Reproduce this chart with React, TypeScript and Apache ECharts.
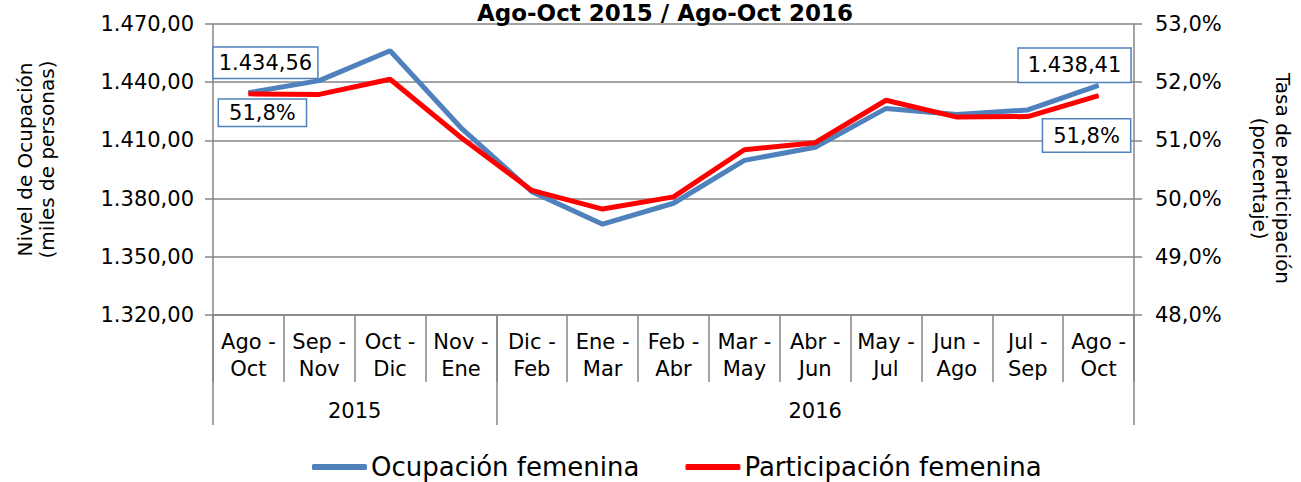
import React, { useEffect, useRef } from "react";
import * as echarts from "echarts";

const titleText = "Ago-Oct 2015 / Ago-Oct 2016";
const categories = [
  "Ago -\nOct", "Sep -\nNov", "Oct -\nDic", "Nov -\nEne", "Dic -\nFeb", "Ene -\nMar",
  "Feb -\nAbr", "Mar -\nMay", "Abr -\nJun", "May -\nJul", "Jun -\nAgo", "Jul -\nSep", "Ago -\nOct",
];
const years = ["2015", "2016"];
const yearBoundaries = [0, 4, 13];
const ocupacion = [1434.56, 1440.8, 1456.2, 1416.5, 1383.6, 1366.8, 1377.6, 1399.7, 1406.5, 1426.5, 1423.4, 1425.7, 1438.41];
const participacion = [51.8, 51.79, 52.05, 51.05, 50.14, 49.82, 50.03, 50.84, 50.96, 51.69, 51.4, 51.41, 51.77];
const leftTicks = { min: 1320, max: 1470, interval: 30 };
const rightTicks = { min: 48, max: 53, interval: 1 };
const seriesNames = ["Ocupación femenina", "Participación femenina"];
const leftAxisName = "Nivel de Ocupación\n(miles de personas)";
const rightAxisName = "Tasa de participación\n(porcentaje)";

const FONT = "DejaVu Sans, Verdana, sans-serif";
const GRAY = "#868686";

function fmtNum(v: number, d: number): string {
  const s = v.toFixed(d);
  const [i, f] = s.split(".");
  const ii = i.replace(/\B(?=(\d{3})+(?!\d))/g, ".");
  return f !== undefined ? ii + "," + f : ii;
}

export default function App() {
  const ref = useRef<HTMLDivElement>(null);
  useEffect(() => {
    if (!ref.current) return;
    const chart = echarts.init(ref.current, undefined, { renderer: "svg" });

    const boxLabel = (offset: number[], padding: number[], fmt: (v: number) => string) => ({
      show: true,
      position: "inside",
      offset,
      padding,
      fontSize: 21,
      fontFamily: FONT,
      color: "#000",
      backgroundColor: "#fff",
      borderColor: "#4F81BD",
      borderWidth: 1.5,
      formatter: (p: any) => fmt(p.value),
    });

    const last = categories.length - 1;
    const ocData = ocupacion.map((v, i) => {
      if (i === 0) return { value: v, label: boxLabel([17, -30], [5, 5, 4, 5], (x) => fmtNum(x, 2)) };
      if (i === last) return { value: v, label: boxLabel([-24, -20], [6, 9, 6, 9], (x) => fmtNum(x, 2)) };
      return { value: v };
    });
    const paData = participacion.map((v, i) => {
      if (i === 0) return { value: v, label: boxLabel([14, 19], [3, 10, 2, 10], (x) => fmtNum(x, 1) + "%") };
      if (i === last) return { value: v, label: boxLabel([-12, 40], [6, 10, 5, 10], (x) => fmtNum(x, 1) + "%") };
      return { value: v };
    });

    const yearCenters = years.map((_, i) => (yearBoundaries[i] + yearBoundaries[i + 1]) / 2);

    chart.setOption({
      animation: false,
      textStyle: { fontFamily: FONT },
      title: {
        text: titleText,
        left: 477,
        top: 1,
        padding: 0,
        textStyle: { fontSize: 23, fontWeight: "bold", color: "#000", fontFamily: FONT, lineHeight: 24 },
      },
      legend: {
        left: 312,
        top: 454,
        padding: 0,
        itemGap: 46,
        itemWidth: 55,
        itemHeight: 6,
        icon: "roundRect",
        textStyle: { fontSize: 26, color: "#000", fontFamily: FONT, padding: [0, 0, 0, -1] },
        data: seriesNames,
      },
      grid: { left: 213, right: 167, top: 24, bottom: 167, containLabel: false, outerBoundsMode: "none" },
      xAxis: [
        {
          type: "category",
          data: categories,
          boundaryGap: true,
          axisLine: { show: true, lineStyle: { color: GRAY, width: 1.5 } },
          axisTick: { show: true, interval: 0, length: 67, lineStyle: { color: GRAY, width: 1.5 } },
          axisLabel: { interval: 0, fontSize: 21, lineHeight: 27, color: "#000", margin: 13, fontFamily: FONT },
          splitLine: { show: false },
        },
        {
          type: "value",
          position: "bottom",
          min: yearBoundaries[0],
          max: yearBoundaries[yearBoundaries.length - 1],
          axisLine: { show: false },
          axisTick: { show: true, customValues: yearBoundaries, length: 110, lineStyle: { color: GRAY, width: 1.5 } },
          axisLabel: {
            show: true,
            customValues: yearCenters,
            formatter: (v: number) => {
              const idx = yearCenters.indexOf(v);
              return idx >= 0 ? years[idx] : "";
            },
            fontSize: 21,
            lineHeight: 21,
            color: "#000",
            margin: 85,
            fontFamily: FONT,
          },
          splitLine: { show: false },
        },
      ],
      yAxis: [
        {
          type: "value",
          min: leftTicks.min,
          max: leftTicks.max,
          interval: leftTicks.interval,
          name: leftAxisName,
          nameLocation: "middle",
          nameGap: 155,
          nameRotate: 90,
          nameTextStyle: { fontSize: 20, lineHeight: 22, color: "#000", fontFamily: FONT, padding: [0, 0, 0, 20] },
          axisLine: { show: true, lineStyle: { color: GRAY, width: 1.5 } },
          axisTick: { show: true, length: 8, lineStyle: { color: GRAY, width: 1.5 } },
          axisLabel: { fontSize: 21, color: "#000", margin: 19, fontFamily: FONT, formatter: (v: number) => fmtNum(v, 2) },
          splitLine: { show: true, lineStyle: { color: GRAY, width: 1.5 } },
        },
        {
          type: "value",
          min: rightTicks.min,
          max: rightTicks.max,
          interval: rightTicks.interval,
          position: "right",
          name: rightAxisName,
          nameLocation: "middle",
          nameGap: 114,
          nameRotate: -90,
          nameTextStyle: { fontSize: 20, lineHeight: 23, color: "#000", fontFamily: FONT, padding: [0, 0, 0, 18] },
          axisLine: { show: true, lineStyle: { color: GRAY, width: 1.5 } },
          axisTick: { show: true, length: 8, lineStyle: { color: GRAY, width: 1.5 } },
          axisLabel: { fontSize: 21, color: "#000", margin: 21, fontFamily: FONT, formatter: (v: number) => fmtNum(v, 1) + "%" },
          splitLine: { show: false },
        },
      ],
      series: [
        {
          name: seriesNames[0],
          type: "line",
          xAxisIndex: 0,
          yAxisIndex: 0,
          data: ocData,
          symbol: "circle",
          symbolSize: 1,
          showSymbol: true,
          itemStyle: { color: "#4F81BD" },
          lineStyle: { color: "#4F81BD", width: 5 },
          label: { show: false },
          z: 2,
        },
        {
          name: seriesNames[1],
          type: "line",
          xAxisIndex: 0,
          yAxisIndex: 1,
          data: paData,
          symbol: "circle",
          symbolSize: 1,
          showSymbol: true,
          itemStyle: { color: "#FF0000" },
          lineStyle: { color: "#FF0000", width: 5 },
          label: { show: false },
          z: 3,
        },
      ],
    });
    return () => chart.dispose();
  }, []);
  return <div ref={ref} style={{ position: "fixed", left: 0, top: 0, width: 1301, height: 482, background: "#fff" }} />;
}
